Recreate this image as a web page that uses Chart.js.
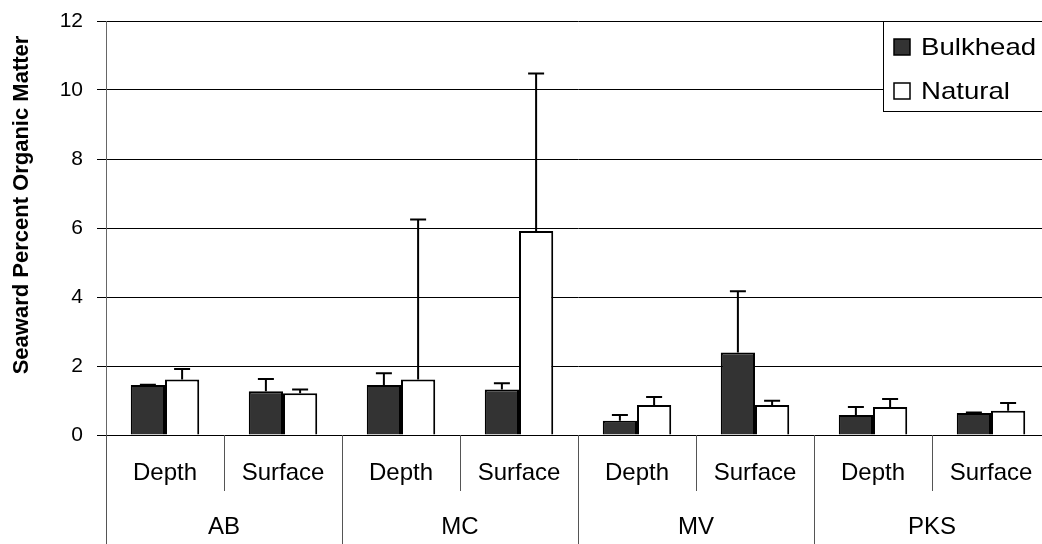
<!DOCTYPE html>
<html>
<head>
<meta charset="utf-8">
<script src="https://cdn.jsdelivr.net/npm/chart.js@4"></script>
<style>
  html, body { margin: 0; padding: 0; background: #fff; overflow: hidden; width: 1042px; height: 544px; }
  #wrap { width: 1060px; height: 544px; }
</style>
</head>
<body>
<div id="wrap"><canvas id="omChart" width="1060" height="544"></canvas></div>
<script>
// data
const sites = ['AB', 'MC', 'MV', 'PKS'];
const layers = ['Depth', 'Surface'];
const categories = ['Depth', 'Surface', 'Depth', 'Surface', 'Depth', 'Surface', 'Depth', 'Surface'];
const bulkhead = [1.45, 1.27, 1.45, 1.32, 0.41, 2.39, 0.58, 0.64];
const bulkheadErr = [0.01, 0.35, 0.34, 0.18, 0.17, 1.78, 0.23, 0.01];
const natural = [1.61, 1.21, 1.61, 5.91, 0.87, 0.87, 0.81, 0.70];
const naturalErr = [0.30, 0.11, 4.64, 4.57, 0.23, 0.12, 0.23, 0.23];
const yTicks = [0, 2, 4, 6, 8, 10, 12];

const FONT = '"Liberation Sans", Arial, sans-serif';

// upper-only error bars
const errorBars = {
    id: 'errorBars',
    afterDatasetsDraw(chart) {
        const ctx = chart.ctx;
        const y = chart.scales.y;
        ctx.save();
        ctx.strokeStyle = '#000';
        ctx.lineWidth = 2;
        chart.data.datasets.forEach((ds, di) => {
            const meta = chart.getDatasetMeta(di);
            meta.data.forEach((bar, i) => {
                const top = y.getPixelForValue(ds.data[i] + ds.errors[i]);
                const base = y.getPixelForValue(ds.data[i]);
                ctx.beginPath();
                ctx.moveTo(bar.x, base);
                ctx.lineTo(bar.x, top);
                ctx.moveTo(bar.x - 8, top);
                ctx.lineTo(bar.x + 8, top);
                ctx.stroke();
            });
        });
        ctx.restore();
    }
};

// two-level category axis, y title and boxed legend
const decorations = {
    id: 'decorations',
    afterDraw(chart) {
        const ctx = chart.ctx;
        const area = chart.chartArea;
        const x = chart.scales.x;
        const step = (area.right - area.left) / categories.length;
        ctx.save();
        ctx.strokeStyle = '#555';
        ctx.lineWidth = 1;
        // separators
        for (let i = 0; i <= categories.length; i++) {
            const px = Math.round(area.left + i * step) + 0.5;
            ctx.beginPath();
            ctx.moveTo(px, area.bottom);
            ctx.lineTo(px, i % layers.length === 0 ? 544 : area.bottom + 56);
            ctx.stroke();
        }
        ctx.fillStyle = '#000';
        ctx.font = '24px ' + FONT;
        ctx.textAlign = 'center';
        ctx.textBaseline = 'middle';
        categories.forEach((c, i) => {
            ctx.fillText(c, x.getPixelForValue(i), area.bottom + 38);
        });
        sites.forEach((s, i) => {
            const cx = area.left + (i * layers.length + layers.length / 2) * step;
            ctx.fillText(s, cx, area.bottom + 92);
        });
        // y title
        ctx.save();
        ctx.translate(22, 205);
        ctx.rotate(-Math.PI / 2);
        ctx.font = 'bold 22px ' + FONT;
        ctx.fillText('Seaward Percent Organic Matter', 0, 0);
        ctx.restore();
        // legend
        ctx.fillStyle = '#fff';
        ctx.fillRect(883, 21, 200, 90);
        ctx.strokeStyle = '#000';
        ctx.lineWidth = 1;
        ctx.strokeRect(883.5, 21.5, 200, 90);
        chart.data.datasets.forEach((ds, i) => {
            const cy = 47 + i * 44;
            ctx.fillStyle = ds.backgroundColor;
            ctx.fillRect(894, cy - 8, 16, 16);
            ctx.lineWidth = 1.5;
            ctx.strokeStyle = '#000';
            ctx.strokeRect(894, cy - 8, 16, 16);
            ctx.save();
            ctx.translate(921, cy + 1);
            ctx.scale(1.15, 1);
            ctx.font = '24px ' + FONT;
            ctx.textAlign = 'left';
            ctx.fillStyle = '#000';
            ctx.fillText(ds.label, 0, 0);
            ctx.restore();
        });
        ctx.restore();
    }
};

const ctx = document.getElementById('omChart').getContext('2d');
const omChart = new Chart(ctx, {
    type: 'bar',
    data: {
        labels: categories,
        datasets: [
            { label: 'Bulkhead', data: bulkhead, errors: bulkheadErr, backgroundColor: '#333333', borderColor: '#000', borderWidth: 2 },
            { label: 'Natural', data: natural, errors: naturalErr, backgroundColor: '#ffffff', borderColor: '#000', borderWidth: 2 }
        ]
    },
    options: {
        responsive: false,
        animation: false,
        layout: { padding: { left: 0, right: 10, top: 21, bottom: 109 } },
        plugins: { legend: { display: false }, tooltip: { enabled: false } },
        datasets: { bar: { categoryPercentage: 0.58, barPercentage: 1.0 } },
        scales: {
            x: { display: false },
            y: {
                min: 0,
                max: 12,
                afterFit: s => { s.width = 106; s.paddingTop = 0; s.paddingBottom = 0; },
                afterBuildTicks: s => { s.ticks = yTicks.map(v => ({ value: v })); },
                ticks: { color: '#000', font: { family: FONT, size: 21 }, padding: 14 },
                grid: { color: '#000', lineWidth: 1, tickLength: 9 },
                border: { color: '#666', width: 1 }
            }
        }
    },
    plugins: [errorBars, decorations]
});
</script>
</body>
</html>
